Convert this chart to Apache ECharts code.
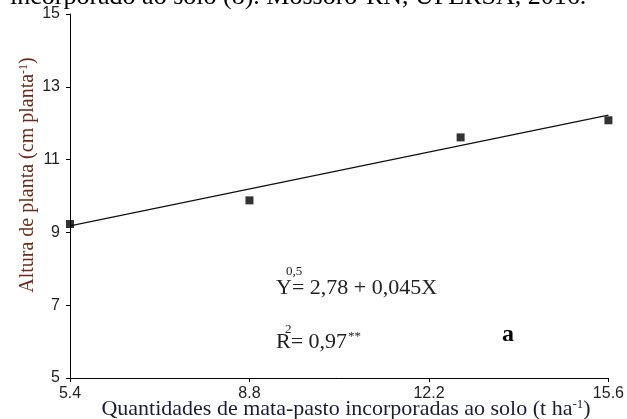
<!DOCTYPE html>
<html lang="pt">
<head>
    <meta charset="UTF-8">
    <title>Altura de planta</title>
    <script src="https://cdn.jsdelivr.net/npm/echarts@6.0.0/dist/echarts.min.js"></script>
    <style>
        html, body { margin: 0; padding: 0; background: #fff; }
        #chart { width: 627px; height: 419px; }
    </style>
</head>
<body>
    <div id="chart"></div>

    <script>
        // dados
        var doses = [5.4, 8.8, 12.8, 15.6];
        var alturas = [9.23, 9.88, 11.61, 12.08];
        // reta ajustada (extremos)
        var retaX = [5.4, 15.6];
        var retaY = [9.18, 12.22];

        var xTicks = [5.4, 8.8, 12.2, 15.6];
        var yTicks = [5, 7, 9, 11, 13, 15];

        var serif = '"Liberation Serif", "Times New Roman", serif';
        var sans = '"Liberation Sans", Arial, sans-serif';

        var chart = echarts.init(document.getElementById('chart'));

        var option = {
            animation: false,
            backgroundColor: '#fff',
            grid: { left: 70, right: 16, top: 14, bottom: 41 },
            xAxis: {
                type: 'value',
                min: 5.4,
                max: 15.6,
                splitLine: { show: false },
                axisLine: { lineStyle: { color: '#000', width: 1 } },
                axisTick: { length: 4, customValues: xTicks, lineStyle: { color: '#000' } },
                axisLabel: {
                    customValues: xTicks,
                    color: '#222',
                    fontFamily: sans,
                    fontSize: 16,
                    margin: 8,
                    formatter: function (v) { return v.toFixed(1); }
                }
            },
            yAxis: {
                type: 'value',
                min: 5,
                max: 15,
                splitLine: { show: false },
                axisLine: { show: true, lineStyle: { color: '#000', width: 1 } },
                axisTick: { show: true, length: 4, customValues: yTicks, lineStyle: { color: '#000' } },
                axisLabel: {
                    customValues: yTicks,
                    color: '#222',
                    fontFamily: sans,
                    fontSize: 16,
                    margin: 10
                }
            },
            series: [
                {
                    type: 'line',
                    data: retaX.map(function (x, i) { return [x, retaY[i]]; }),
                    showSymbol: false,
                    lineStyle: { color: '#111', width: 1.2 },
                    z: 2
                },
                {
                    type: 'scatter',
                    data: doses.map(function (x, i) { return [x, alturas[i]]; }),
                    symbol: 'rect',
                    symbolSize: 8,
                    itemStyle: { color: '#000' },
                    z: 3
                }
            ],
            graphic: [
                // legenda da figura cortada no topo
                {
                    type: 'text', x: 10, y: 10,
                    style: { text: 'incorporado ao solo (8). Mossoró-RN, UFERSA, 2016.', font: '26px ' + serif, fill: '#000', verticalAlign: 'bottom' }
                },
                // título eixo y
                {
                    type: 'text', x: 28, y: 175, rotation: Math.PI / 2,
                    style: {
                        text: '{m|Altura de planta (cm planta}{s|-1}{m|)}',
                        align: 'center', verticalAlign: 'middle',
                        rich: {
                            m: { font: '20px ' + serif, fill: '#6e2a1c', verticalAlign: 'bottom' },
                            s: { font: '12px ' + serif, fill: '#6e2a1c', verticalAlign: 'top' }
                        }
                    }
                },
                // título eixo x
                {
                    type: 'text', x: 346, y: 409,
                    style: {
                        text: '{m|Quantidades de mata-pasto incorporadas ao solo (t ha}{s|-1}{m|)}',
                        align: 'center', verticalAlign: 'middle',
                        rich: {
                            m: { font: '22px ' + serif, fill: '#1c1c38', verticalAlign: 'bottom' },
                            s: { font: '13px ' + serif, fill: '#1c1c38', verticalAlign: 'top' }
                        }
                    }
                },
                // equação
                {
                    type: 'text', x: 276, y: 288,
                    style: { text: 'Y= 2,78 + 0,045X', font: '22px ' + serif, fill: '#222', verticalAlign: 'middle' }
                },
                {
                    type: 'text', x: 286, y: 272,
                    style: { text: '0,5', font: '13px ' + serif, fill: '#222', verticalAlign: 'middle' }
                },
                {
                    type: 'text', x: 276, y: 342,
                    style: { text: 'R= 0,97', font: '22px ' + serif, fill: '#222', verticalAlign: 'middle' }
                },
                {
                    type: 'text', x: 285, y: 330,
                    style: { text: '2', font: '13px ' + serif, fill: '#222', verticalAlign: 'middle' }
                },
                {
                    type: 'text', x: 348, y: 337,
                    style: { text: '**', font: '13px ' + serif, fill: '#222', verticalAlign: 'middle' }
                },
                {
                    type: 'text', x: 502, y: 335,
                    style: { text: 'a', font: 'bold 24px ' + serif, fill: '#000', verticalAlign: 'middle' }
                }
            ]
        };

        chart.setOption(option);
    </script>
</body>
</html>
